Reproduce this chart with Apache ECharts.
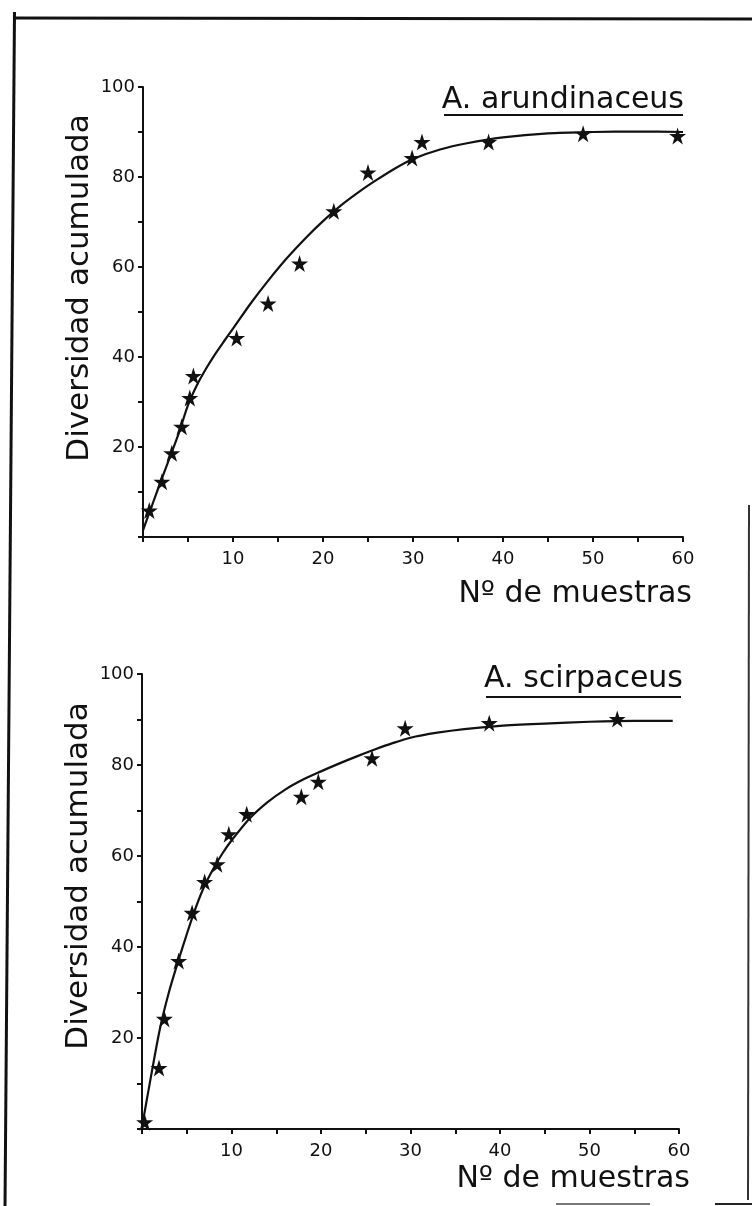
<!DOCTYPE html>
<html>
<head>
<meta charset="utf-8">
<script src="https://cdn.jsdelivr.net/npm/echarts@6/dist/echarts.min.js"></script>
<style>
html,body{margin:0;padding:0;background:#fff;}
#c{width:752px;height:1206px;}
</style>
</head>
<body>
<div id="c"></div>
<script>
// ---- data ----
const titleTop = 'A. arundinaceus';
const titleBot = 'A. scirpaceus';
const yName = 'Diversidad acumulada';
const xName = 'Nº de muestras';

const topStarX = [0.7, 2.1, 3.2, 4.3, 5.2, 5.6, 10.4, 13.9, 17.4, 21.2, 25, 29.9, 31, 38.4, 48.9, 59.4];
const topStarY = [5.9, 12.3, 18.6, 24.5, 30.9, 35.8, 44.2, 51.9, 60.8, 72.4, 81, 84.2, 87.8, 87.8, 89.6, 89.1];
const topCurveX = [0, 1, 2, 3, 4, 5, 6, 7, 8, 9, 10, 12, 14, 16, 18, 20, 22, 24, 26, 28, 30, 33, 36, 40, 45, 50, 55, 60];
const topCurveY = [1.5, 7, 12.5, 17.8, 23.2, 29.3, 33.8, 37.4, 40.6, 43.5, 46.3, 52, 57.2, 62, 66.3, 70.2, 73.7, 76.7, 79.4, 81.9, 84, 86.1, 87.5, 88.8, 89.7, 90, 90.1, 90];

const botStarX = [0.3, 1.9, 2.5, 4.1, 5.6, 7, 8.4, 9.7, 11.7, 17.8, 19.7, 25.7, 29.4, 38.8, 53.1];
const botStarY = [1.5, 13.4, 24.2, 36.9, 47.5, 54.3, 58.2, 64.8, 69.2, 73, 76.3, 81.5, 88.1, 89.2, 90.1];
const botCurveX = [0, 1, 2, 3, 4, 5, 6, 7, 8, 9, 10, 12, 14, 16, 18, 20, 22, 24, 26, 28, 30, 33, 36, 40, 45, 50, 55, 59.3];
const botCurveY = [0.5, 11.5, 22, 30, 36.6, 42.8, 48.6, 53.5, 57.3, 60.6, 63.4, 68.2, 71.8, 74.6, 76.8, 78.6, 80.3, 81.9, 83.4, 84.8, 86, 87.1, 87.9, 88.6, 89.1, 89.5, 89.7, 89.7];

const xTicks = [10, 20, 30, 40, 50, 60];
const yTicks = [20, 40, 60, 80, 100];

// ---- build ----
const zip = (a, b) => a.map((v, i) => [v, b[i]]);
const star = 'path://M50,0 L61.2,34.5 L97.6,34.5 L68.2,55.9 L79.4,90.5 L50,69.1 L20.6,90.5 L31.8,55.9 L2.4,34.5 L38.8,34.5 Z';
const FONT = '"DejaVu Sans", sans-serif';

function xAxis(gi) {
  return {
    type: 'value', gridIndex: gi, min: 0, max: 60, interval: 5,
    axisLine: { show: true, lineStyle: { color: '#111', width: 2 } },
    axisTick: { show: true, inside: false, length: 5, lineStyle: { color: '#111', width: 2 } },
    axisLabel: {
      color: '#111', fontFamily: FONT, fontSize: 18, margin: 13,
      formatter: v => xTicks.indexOf(v) >= 0 ? String(v) : ''
    },
    splitLine: { show: false }
  };
}
function yAxis(gi) {
  return {
    type: 'value', gridIndex: gi, min: 0, max: 100, interval: 10,
    axisLine: { show: true, lineStyle: { color: '#111', width: 2 } },
    axisTick: { show: true, inside: false, length: 5, lineStyle: { color: '#111', width: 2 } },
    axisLabel: {
      color: '#111', fontFamily: FONT, fontSize: 18, margin: 8,
      formatter: v => yTicks.indexOf(v) >= 0 ? String(v) : ''
    },
    splitLine: { show: false }
  };
}
function curve(gi, xs, ys) {
  return {
    type: 'line', xAxisIndex: gi, yAxisIndex: gi, data: zip(xs, ys),
    smooth: 0.3, showSymbol: false, symbol: 'none',
    lineStyle: { color: '#111', width: 2.2 }, z: 3, silent: true
  };
}
function stars(gi, xs, ys) {
  return {
    type: 'scatter', xAxisIndex: gi, yAxisIndex: gi, data: zip(xs, ys),
    symbol: star, symbolSize: 17,
    itemStyle: { color: '#111', opacity: 1 }, z: 4, silent: true
  };
}
const txt = (text, x, y, size, align, rot) => ({
  type: 'text', x: x, y: y, rotation: rot || 0, silent: true,
  style: { text: text, fill: '#111', font: size + 'px ' + FONT, align: align, verticalAlign: 'middle' }
});
const ln = (x1, y1, x2, y2, w, c) => ({
  type: 'line', silent: true,
  shape: { x1: x1, y1: y1, x2: x2, y2: y2 },
  style: { stroke: c || '#111', lineWidth: w }
});

const chart = echarts.init(document.getElementById('c'), null, { renderer: 'canvas' });
chart.setOption({
  backgroundColor: '#fff',
  animation: false,
  grid: [
    { left: 143, right: 69, top: 87, bottom: 669 },
    { left: 142, right: 73, top: 674, bottom: 77 }
  ],
  xAxis: [xAxis(0), xAxis(1)],
  yAxis: [yAxis(0), yAxis(1)],
  series: [
    curve(0, topCurveX, topCurveY), stars(0, topStarX, topStarY),
    curve(1, botCurveX, botCurveY), stars(1, botStarX, botStarY)
  ],
  graphic: [
    // frame
    ln(14.5, 12, 5, 1206, 3),
    ln(13, 18, 752, 19, 3),
    ln(749, 505, 748, 1200, 2, '#333'),
    ln(556, 1204, 650, 1204, 2, '#777'),
    ln(715, 1204, 752, 1204, 2, '#222'),
    // titles
    txt(titleTop, 684, 100, 30, 'right'),
    ln(444, 115, 683, 115, 2),
    txt(titleBot, 683, 679, 30, 'right'),
    ln(486, 697, 681, 697, 2),
    // axis names
    txt(xName, 692, 594, 30, 'right'),
    txt(xName, 690, 1179, 30, 'right'),
    txt(yName, 80, 288, 31, 'center', Math.PI / 2),
    txt(yName, 79, 876, 31, 'center', Math.PI / 2)
  ]
});
</script>
</body>
</html>
